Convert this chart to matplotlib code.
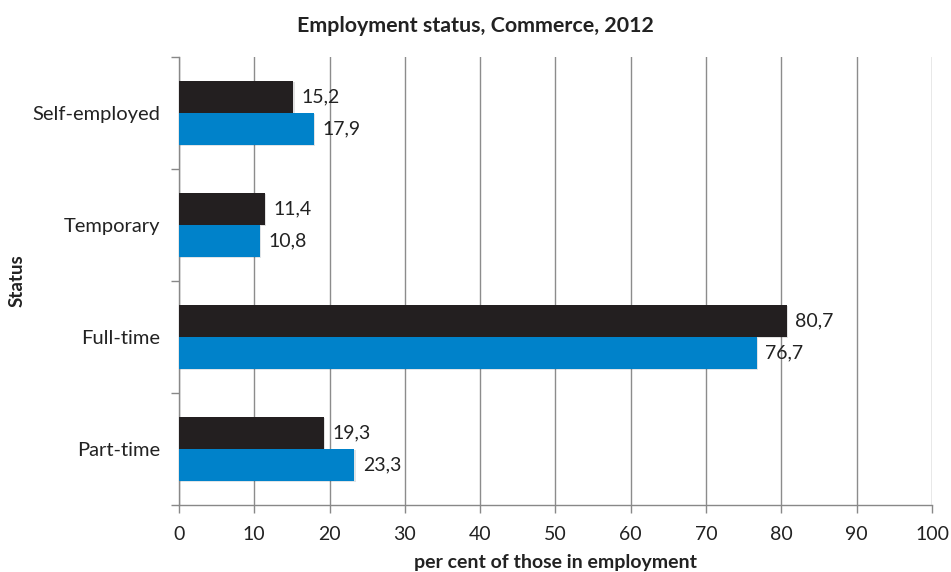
import matplotlib
matplotlib.use("Agg")
import matplotlib.pyplot as plt
import matplotlib.patheffects as pe
import numpy as np

plt.rcParams['font.family'] = ['Lato', 'DejaVu Sans']

categories = ["Part-time", "Full-time", "Temporary", "Self-employed"]
series_dark = [19.3, 80.7, 11.4, 15.2]
series_blue = [23.3, 76.7, 10.8, 17.9]
x_ticks = [0, 10, 20, 30, 40, 50, 60, 70, 80, 90, 100]

fig = plt.figure(figsize=(9.51, 5.72), dpi=100)
ax = fig.add_axes([0.1882, 0.1171, 0.7918, 0.7832])

y = np.arange(len(categories))
h = 0.286
shadow = [pe.SimplePatchShadow(offset=(0.8, -0.8), alpha=0.12), pe.Normal()]
bars_dark = ax.barh(y + h / 2, series_dark, height=h, color="#231f20", zorder=3,
                    path_effects=shadow)
bars_blue = ax.barh(y - h / 2, series_blue, height=h, color="#0082ca", zorder=3,
                    path_effects=shadow)

for bars, vals in ((bars_dark, series_dark), (bars_blue, series_blue)):
    for b, v in zip(bars, vals):
        ax.annotate(f"{v:.1f}".replace(".", ","),
                    (v, b.get_y() + b.get_height() / 2),
                    xytext=(6, 0), textcoords="offset points",
                    va="center", ha="left", fontsize=14, color="#222222")

ax.set_xlim(0, 100)
ax.set_ylim(-0.5, len(categories) - 0.5)
ax.set_xticks(x_ticks)
ax.set_xticklabels([str(t) for t in x_ticks], fontsize=14, color="#222222")
ax.set_yticks(y)
ax.set_yticklabels(categories, fontsize=14.5, color="#222222")
ax.set_yticks(np.arange(-0.5, len(categories)), minor=True)
ax.tick_params(axis="y", which="major", length=0, pad=13.5)
ax.tick_params(axis="y", which="minor", length=6, color="#888888", width=1)
ax.tick_params(axis="x", length=6, color="#888888", width=1, pad=9)

ax.grid(axis="x", color="#8c8c8c", linewidth=1, zorder=0)
for s in ("top", "right"):
    ax.spines[s].set_visible(False)
for s in ("left", "bottom"):
    ax.spines[s].set_color("#888888")
    ax.spines[s].set_linewidth(1)

ax.set_xlabel("per cent of those in employment", fontsize=14, fontweight="bold",
              labelpad=8, color="#222222")
ax.set_ylabel("Status", fontsize=13.5, fontweight="bold", color="#222222", labelpad=5)
fig.text(0.5, 0.955, "Employment status, Commerce, 2012", ha="center", va="center",
         fontsize=15.4, fontweight="bold", color="#222222")

fig.savefig("out.png", dpi=100)
